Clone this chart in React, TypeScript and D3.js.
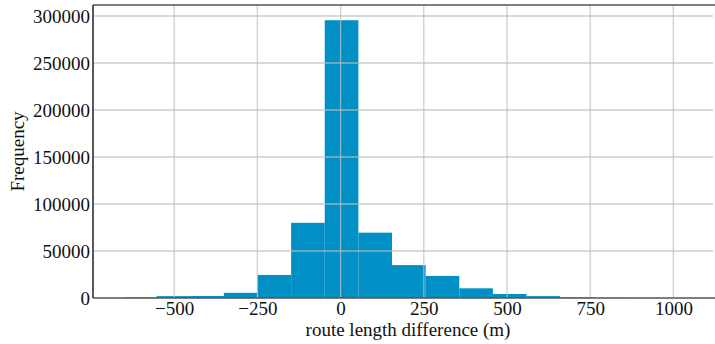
import React, { useEffect, useRef } from 'react';
import * as d3 from 'd3';

// histogram: 17 equal bins between min and max
const binMin = -654;
const binMax = 1064;
const counts = [600, 2000, 2100, 5500, 24500, 80000, 295500, 69500, 35000, 23500, 10300, 4300, 2000, 600, 250, 120, 60];
const xTicks = [-500, -250, 0, 250, 500, 750, 1000];
const yTicks = [0, 50000, 100000, 150000, 200000, 250000, 300000];

const W = 715, H = 344;
const margin = { top: 5, right: 2, bottom: 46, left: 93 };

export default function App() {
  const ref = useRef<SVGSVGElement>(null);

  useEffect(() => {
    document.body.style.margin = '0';
    const svg = d3.select(ref.current);
    svg.selectAll('*').remove();

    const x = d3.scaleLinear().domain([-744, 1119]).range([margin.left, W - margin.right]);
    const y = d3.scaleLinear().domain([0, 311700]).range([H - margin.bottom, margin.top]);
    const step = (binMax - binMin) / counts.length;
    const bins = counts.map((c, i) => ({ x0: binMin + i * step, x1: binMin + (i + 1) * step, c }));

    svg.append('g')
      .selectAll('rect')
      .data(bins)
      .enter()
      .append('rect')
      .attr('x', d => x(d.x0))
      .attr('width', d => x(d.x1) - x(d.x0))
      .attr('y', d => y(d.c))
      .attr('height', d => y(0) - y(d.c))
      .attr('fill', '#0090c6');

    // grid on top of bars
    const grid = svg.append('g').attr('stroke', 'rgba(190,190,190,0.75)').attr('stroke-width', 1.3);
    grid.selectAll('.vx').data(xTicks).enter().append('line')
      .attr('x1', d => x(d)).attr('x2', d => x(d))
      .attr('y1', margin.top).attr('y2', H - margin.bottom);
    grid.selectAll('.hy').data(yTicks.slice(1)).enter().append('line')
      .attr('x1', margin.left).attr('x2', W - margin.right)
      .attr('y1', d => y(d)).attr('y2', d => y(d));

    // spines
    svg.append('line').attr('x1', margin.left).attr('x2', W).attr('y1', margin.top).attr('y2', margin.top)
      .attr('stroke', '#555').attr('stroke-width', 1.5);
    svg.append('line').attr('x1', margin.left).attr('x2', W).attr('y1', y(0)).attr('y2', y(0))
      .attr('stroke', '#555').attr('stroke-width', 1.5);
    svg.append('line').attr('x1', margin.left).attr('x2', margin.left).attr('y1', margin.top).attr('y2', y(0))
      .attr('stroke', '#222').attr('stroke-width', 1.5);

    const font = '"Liberation Serif", "Times New Roman", serif';
    const xAxis = d3.axisBottom(x).tickValues(xTicks).tickSize(0).tickPadding(3)
      .tickFormat(d => d3.format('d')(d as number).replace('-', '\u2212'));
    svg.append('g').attr('transform', `translate(0,${y(0)})`).call(xAxis)
      .call(g => g.select('.domain').remove())
      .selectAll('text').attr('font-family', font).attr('font-size', 19).attr('fill', '#111');

    const yAxis = d3.axisLeft(y).tickValues(yTicks).tickSize(0).tickPadding(3).tickFormat(d3.format('d'));
    svg.append('g').attr('transform', `translate(${margin.left},0)`).call(yAxis)
      .call(g => g.select('.domain').remove())
      .selectAll('text').attr('font-family', font).attr('font-size', 19).attr('fill', '#111');

    svg.append('text')
      .attr('x', (margin.left + W - margin.right) / 2 + 5).attr('y', 336)
      .attr('text-anchor', 'middle').attr('font-family', font).attr('font-size', 19).attr('fill', '#111')
      .text('route length difference (m)');
    svg.append('text')
      .attr('transform', `translate(24,${(margin.top + y(0)) / 2}) rotate(-90)`)
      .attr('text-anchor', 'middle').attr('font-family', font).attr('font-size', 19).attr('fill', '#111')
      .text('Frequency');
  }, []);

  return <svg ref={ref} width={W} height={H} style={{ display: 'block', background: '#fff' }} />;
}
